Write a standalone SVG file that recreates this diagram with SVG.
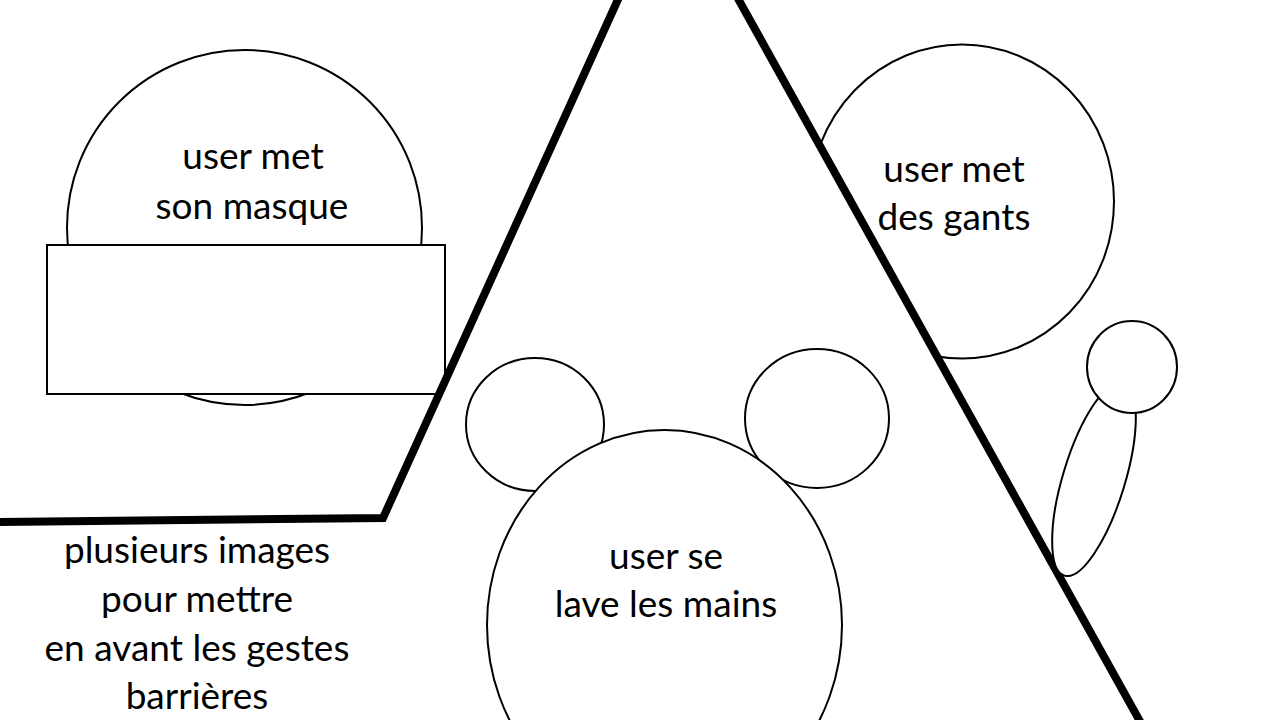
<svg xmlns="http://www.w3.org/2000/svg" width="1280" height="720" viewBox="0 0 1280 720">
<style>
.shape{fill:#fff;stroke:#000;stroke-width:2}
.thick{fill:none;stroke:#000;stroke-width:8;stroke-linejoin:miter}
.lbl{font-family:Lato,"Liberation Sans",sans-serif;font-size:37px;fill:#000;text-anchor:middle}
</style>
<rect width="1280" height="720" fill="#fff"/>
<g id="masque">
<ellipse class="shape" cx="244.5" cy="227.5" rx="177.5" ry="177.5"/>
<rect class="shape" x="47" y="245" width="398" height="149"/>
<text class="lbl" x="253" y="169">user met</text>
<text class="lbl" x="252" y="219">son masque</text>
</g>
<g id="gants">
<ellipse class="shape" cx="962" cy="201.5" rx="152" ry="157"/>
</g>
<polygon points="0,522 383,518 618,-5 738,-5 1142,725 0,725" fill="#fff" stroke="none"/>
<g id="connectors">
<polyline class="thick" points="-5,522 383,518 620,-5"/>
<line class="thick" x1="736" y1="-5" x2="1142" y2="725"/>
</g>
<g id="gants-label">
<text class="lbl" x="954" y="182">user met</text>
<text class="lbl" x="954" y="230">des gants</text>
</g>
<g id="figure">
<ellipse class="shape" cx="1094" cy="479" rx="31" ry="101" transform="rotate(17 1094 479)"/>
<ellipse class="shape" cx="1132" cy="367" rx="45" ry="46"/>
</g>
<g id="mains">
<ellipse class="shape" cx="535" cy="424.5" rx="69" ry="66.5"/>
<ellipse class="shape" cx="817" cy="418.5" rx="72" ry="69.5"/>
<ellipse class="shape" cx="664.5" cy="625" rx="177.5" ry="195"/>
<text class="lbl" x="666" y="569">user se</text>
<text class="lbl" x="666" y="617">lave les mains</text>
</g>
<g id="note">
<text class="lbl" x="197" y="563">plusieurs images</text>
<text class="lbl" x="197" y="612">pour mettre</text>
<text class="lbl" x="197" y="661">en avant les gestes</text>
<text class="lbl" x="197" y="709">barrières</text>
</g>
</svg>
